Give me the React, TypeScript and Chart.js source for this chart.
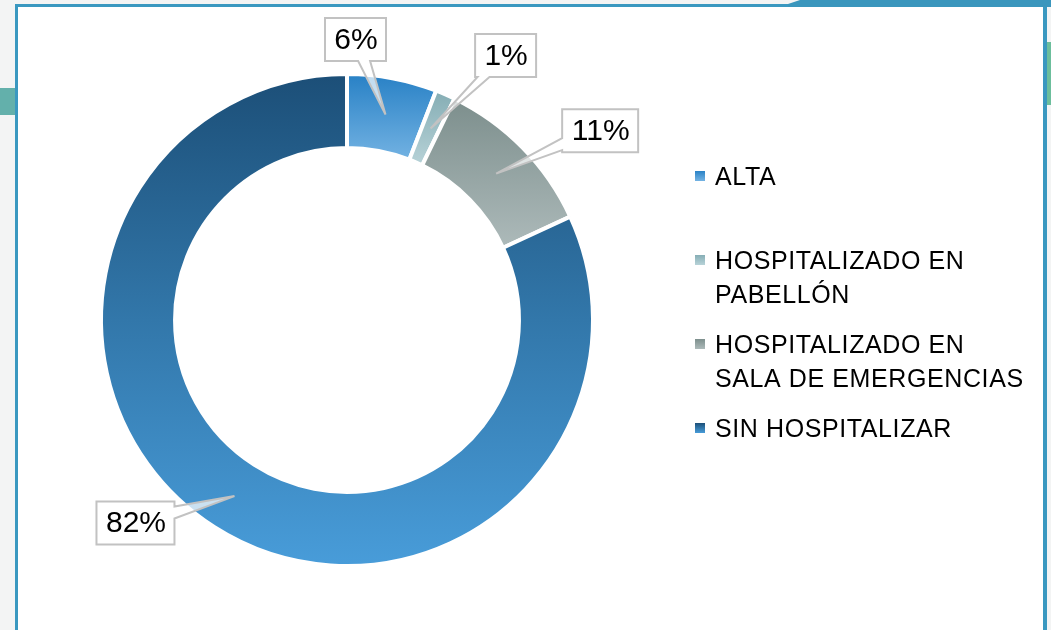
import React, { useEffect, useRef } from "react";
import { Chart, registerables } from "chart.js";

Chart.register(...registerables);

// ---------- data ----------
const categories: string[][] = [
  ["ALTA"],
  ["HOSPITALIZADO EN", "PABELLÓN"],
  ["HOSPITALIZADO EN", "SALA DE EMERGENCIAS"],
  ["SIN HOSPITALIZAR"],
];
const values: number[] = [5.9, 1.3, 10.9, 81.9];

// vertical gradient stops for each slice (top -> bottom)
const sliceStops: string[][] = [
  ["#2a82c6", "#74b3e3"],
  ["#86aeb5", "#b8d3d8"],
  ["#7d8f8d", "#adbaba"],
  ["#1c4f78", "#3277aa", "#489cd9"],
];

// ---------- layout ----------
const W = 1051;
const H = 630;
const CUTOUT = 0.699;
const FONT = '"Liberation Sans", Arial, sans-serif';
// callout box centre offsets from the slice anchor point
const calloutOffsets: number[][] = [
  [-30, -75],
  [75, -73],
  [104, -43],
  [-99, 27],
];
const LEGEND_X = 695;
const LEGEND_FIRST_BASELINE = 185;
const LEGEND_ITEM_GAP = 84;
const LEGEND_LINE_GAP = 34;

function makeGradient(c: CanvasRenderingContext2D, y0: number, y1: number, stops: string[]) {
  const g = c.createLinearGradient(0, y0, 0, y1);
  stops.forEach((s, k) => g.addColorStop(stops.length === 1 ? 0 : k / (stops.length - 1), s));
  return g;
}

function sliceGradient(ctx: any) {
  const chart = ctx.chart;
  const area = chart.chartArea;
  const i = ctx.dataIndex;
  const stops = sliceStops[i];
  if (!area) return stops[0];
  const cx = (area.left + area.right) / 2;
  const cy = (area.top + area.bottom) / 2;
  const rOut = Math.min(area.right - area.left, area.bottom - area.top) / 2 - 4;
  const rIn = rOut * CUTOUT;
  const data: number[] = ctx.dataset.data;
  const total = data.reduce((a, b) => a + b, 0);
  let prev = 0;
  for (let k = 0; k < i; k++) prev += data[k];
  const a0 = -Math.PI / 2 + (2 * Math.PI * prev) / total;
  const a1 = a0 + (2 * Math.PI * data[i]) / total;
  const ys = [
    cy + rOut * Math.sin(a0),
    cy + rOut * Math.sin(a1),
    cy + rIn * Math.sin(a0),
    cy + rIn * Math.sin(a1),
  ];
  for (const k of [-Math.PI / 2, Math.PI / 2, (3 * Math.PI) / 2]) {
    if (k >= a0 - 1e-9 && k <= a1 + 1e-9) ys.push(cy + rOut * Math.sin(k));
  }
  void cx;
  return makeGradient(chart.ctx, Math.min(...ys), Math.max(...ys), stops);
}

const calloutPlugin = {
  id: "callouts",
  afterDatasetsDraw(chart: any) {
    const c: CanvasRenderingContext2D = chart.ctx;
    const meta = chart.getDatasetMeta(0);
    const data: number[] = chart.data.datasets[0].data;
    const total = data.reduce((a, b) => a + b, 0);
    c.save();
    c.font = `30px ${FONT}`;
    meta.data.forEach((el: any, i: number) => {
      const tip = el.getCenterPoint();
      const text = Math.round((data[i] / total) * 100) + "%";
      const tw = c.measureText(text).width;
      const bw = Math.round(tw + 18);
      const bh = 43;
      const bcx = tip.x + calloutOffsets[i][0];
      const bcy = tip.y + calloutOffsets[i][1];
      const L = bcx - bw / 2, R = bcx + bw / 2, T = bcy - bh / 2, B = bcy + bh / 2;
      const dx = tip.x - bcx, dy = tip.y - bcy;
      const tx = dx !== 0 ? (bw / 2) / Math.abs(dx) : Infinity;
      const ty = dy !== 0 ? (bh / 2) / Math.abs(dy) : Infinity;
      let edge: number;
      let hx: number, hy: number;
      if (tx < ty) {
        edge = dx > 0 ? 1 : 3;
        hx = bcx + dx * tx; hy = bcy + dy * tx;
      } else {
        edge = dy > 0 ? 2 : 0;
        hx = bcx + dx * ty; hy = bcy + dy * ty;
      }
      const hw = 6;
      const corners = [[L, T], [R, T], [R, B], [L, B]];
      c.beginPath();
      c.moveTo(L, T);
      for (let e = 0; e < 4; e++) {
        const end = corners[(e + 1) % 4];
        if (e === edge) {
          let b1: number[], b2: number[];
          if (e === 0) { const x = Math.min(Math.max(hx, L + hw + 2), R - hw - 2); b1 = [x - hw, T]; b2 = [x + hw, T]; }
          else if (e === 1) { const y = Math.min(Math.max(hy, T + hw + 2), B - hw - 2); b1 = [R, y - hw]; b2 = [R, y + hw]; }
          else if (e === 2) { const x = Math.min(Math.max(hx, L + hw + 2), R - hw - 2); b1 = [x + hw, B]; b2 = [x - hw, B]; }
          else { const y = Math.min(Math.max(hy, T + hw + 2), B - hw - 2); b1 = [L, y + hw]; b2 = [L, y - hw]; }
          c.lineTo(b1[0], b1[1]);
          c.lineTo(tip.x, tip.y);
          c.lineTo(b2[0], b2[1]);
        }
        c.lineTo(end[0], end[1]);
      }
      c.closePath();
      c.fillStyle = "rgba(255,255,255,0.72)";
      c.fill();
      c.lineWidth = 2;
      c.strokeStyle = "#c2c2c2";
      c.lineJoin = "miter";
      c.stroke();
      c.fillStyle = "#000000";
      c.textAlign = "center";
      c.textBaseline = "middle";
      c.fillText(text, bcx + 0.5, bcy + 1);
    });
    c.restore();
  },
};

const legendPlugin = {
  id: "sideLegend",
  afterDraw(chart: any) {
    const c: CanvasRenderingContext2D = chart.ctx;
    c.save();
    c.font = `25px ${FONT}`;
    (c as any).letterSpacing = "0.6px";
    c.textAlign = "left";
    c.textBaseline = "alphabetic";
    categories.forEach((lines, i) => {
      const base = LEGEND_FIRST_BASELINE + i * LEGEND_ITEM_GAP;
      const sq = 10;
      const sy = base - 9 - sq / 2;
      c.fillStyle = makeGradient(c, sy, sy + sq, sliceStops[i]);
      c.fillRect(LEGEND_X, sy, sq, sq);
      c.fillStyle = "#000000";
      lines.forEach((ln, k) => {
        c.fillText(ln, LEGEND_X + 20, base + k * LEGEND_LINE_GAP);
      });
    });
    c.restore();
  },
};

export default function App() {
  const ref = useRef<HTMLCanvasElement | null>(null);

  useEffect(() => {
    if (!ref.current) return;
    const chart = new Chart(ref.current, {
      type: "doughnut",
      data: {
        labels: categories.map((c) => c.join(" ")),
        datasets: [
          {
            data: values,
            backgroundColor: sliceGradient as any,
            borderColor: "#ffffff",
            borderWidth: 4,
            hoverOffset: 0,
          },
        ],
      },
      options: {
        responsive: false,
        animation: false,
        events: [],
        cutout: CUTOUT * 100 + "%",
        layout: { padding: { left: 99, top: 72, right: 456, bottom: 62 } },
        plugins: {
          legend: { display: false },
          tooltip: { enabled: false },
          title: { display: false },
        },
      },
      plugins: [calloutPlugin, legendPlugin],
    });
    return () => chart.destroy();
  }, []);

  return (
    <div
      style={{
        position: "absolute",
        left: 0,
        top: 0,
        width: W,
        height: H,
        overflow: "hidden",
        background: "#f3f4f4",
      }}
    >
      <div style={{ position: "absolute", left: 0, top: 88, width: 15, height: 27, background: "#63b0ab" }} />
      <div style={{ position: "absolute", left: 1047, top: 42, width: 4, height: 63, background: "#6cbe9c" }} />
      <div
        style={{
          position: "absolute",
          left: 15,
          top: 4,
          width: 1032,
          height: 700,
          boxSizing: "border-box",
          background: "#ffffff",
          borderLeft: "3px solid #3a98c0",
          borderTop: "3px solid #3a98c0",
          borderRight: "4px solid #3a98c0",
        }}
      />
      <div
        style={{
          position: "absolute",
          left: 788,
          top: 0,
          width: 263,
          height: 7,
          background: "#3a96bd",
          clipPath: "polygon(0 4px, 12px 0, 100% 0, 100% 100%, 0 100%)",
        }}
      />
      <canvas
        ref={ref}
        width={W}
        height={H}
        style={{ position: "absolute", left: 0, top: 0, width: W, height: H }}
      />
    </div>
  );
}
